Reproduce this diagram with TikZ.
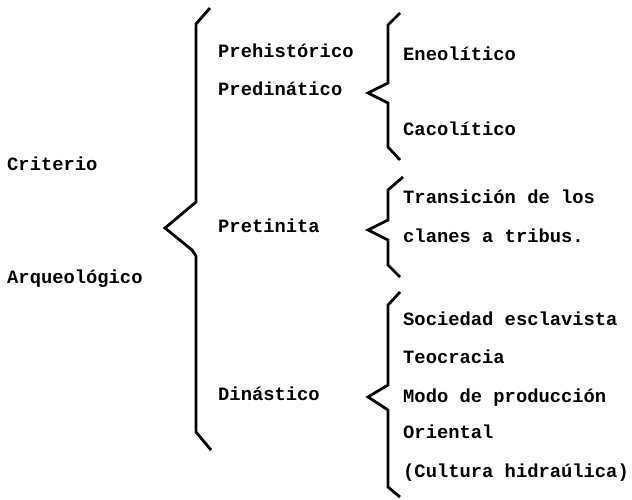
\documentclass[tikz,border=0pt]{standalone}
\usepackage{fontspec}
\newfontfamily\maquina{Liberation Mono}
\begin{document}
\begin{tikzpicture}[x=1pt, y=-1pt,
    lbl/.style = {anchor=base west, inner sep=0pt, font=\maquina\bfseries\fontsize{18.8}{22}\selectfont},
    llave/.style = {line width=2.8pt, line join=miter, line cap=butt}]
        \useasboundingbox (0,0) rectangle (632,499);
        % primera columna
        \node[lbl] (criterio) at (7,170) {Criterio};
        \node[lbl] (arqueo) at (7,283) {Arqueológico};
        %
        \draw[llave] (210,8) -- (196,24) -- (196,202) -- (165,228) -- (192,250) -- (196,256) -- (196,432) -- (211,450);
        % segunda columna
        \node[lbl] (prehist) at (218,57) {Prehistórico};
        \node[lbl] (predin) at (218,95) {Predinático};
        \node[lbl] (pretin) at (218,232) {Pretinita};
        \node[lbl] (dinast) at (218,400) {Dinástico};
        %
        \draw[llave] (400,13) -- (388,25) -- (388,83) -- (368,93) -- (388,103) -- (388,147) -- (400,160);
        \draw[llave] (403,177) -- (388,190) -- (388,220) -- (368,230) -- (388,240) -- (388,265) -- (400,277);
        \draw[llave] (400,292) -- (388,305) -- (388,385) -- (368,397) -- (388,410) -- (388,487) -- (400,497);
        % tercera columna
        \node[lbl] (eneo) at (403,60) {Eneolítico};
        \node[lbl] (caco) at (403,135) {Cacolítico};
        \node[lbl] (trans) at (403,203) {Transición de los};
        \node[lbl] (clanes) at (403,242) {clanes a tribus.};
        \node[lbl] (socied) at (403,325) {Sociedad esclavista};
        \node[lbl] (teocr) at (403,363) {Teocracia};
        \node[lbl] (modo) at (403,402) {Modo de producción};
        \node[lbl] (orient) at (403,438) {Oriental};
        \node[lbl] (cultura) at (403,477) {(Cultura hidraúlica)};
      \end{tikzpicture}
\end{document}
